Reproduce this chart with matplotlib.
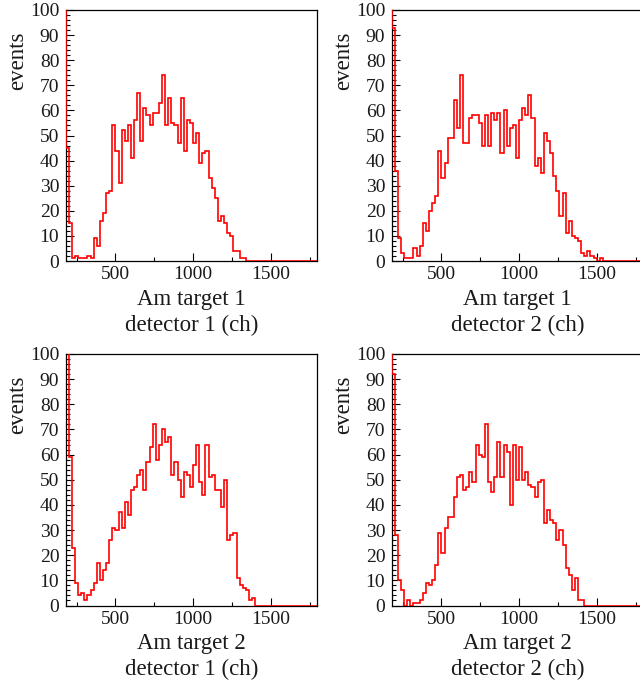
import numpy as np
import matplotlib
matplotlib.use("Agg")
import matplotlib.pyplot as plt
from matplotlib.ticker import MultipleLocator

plt.rcParams['font.family'] = ['Liberation Serif', 'DejaVu Serif']

# histogram binning (channels), 20 ch per bin; first bin is the off-scale pedestal
bin_edges = np.arange(160, 1801, 20)
n_bins = len(bin_edges) - 1

# counts per bin starting at bin [160,180]; remaining bins up to 1800 are empty
t1_d1 = [400, 45, 15, 1, 2, 1, 1, 1, 2, 1, 9, 6, 16, 19, 27, 28, 54, 44, 31, 52, 48,
         54, 41, 56, 67, 48, 61, 58, 54, 59, 59, 63, 74, 54, 65, 55, 54, 47, 65, 44,
         56, 55, 47, 51, 39, 43, 44, 33, 29, 25, 16, 18, 15, 11, 10, 4, 4, 1, 1]
t1_d2 = [400, 93, 36, 9, 3, 1, 1, 1, 5, 2, 6, 15, 12, 20, 23, 26, 44, 33, 39, 49, 49,
         64, 53, 74, 47, 47, 57, 58, 58, 55, 46, 58, 46, 59, 56, 59, 43, 60, 46, 53,
         54, 41, 56, 61, 58, 66, 57, 38, 41, 35, 51, 48, 43, 34, 28, 18, 27, 11, 16,
         10, 9, 8, 3, 2, 4, 2, 1, 0, 1]
t2_d1 = [400, 150, 59, 23, 9, 4, 5, 2, 4, 6, 9, 17, 10, 14, 17, 26, 31, 30, 37, 31,
         41, 36, 46, 47, 52, 54, 46, 57, 63, 72, 58, 64, 70, 65, 67, 52, 57, 50, 43,
         53, 52, 47, 56, 64, 49, 44, 64, 51, 52, 46, 46, 39, 50, 26, 28, 29, 11, 8,
         7, 6, 2, 3]
t2_d2 = [400, 92, 28, 10, 6, 0, 2, 0, 1, 1, 2, 5, 9, 8, 10, 16, 29, 21, 31, 35, 35,
         43, 51, 52, 46, 47, 53, 49, 64, 60, 59, 72, 49, 45, 51, 65, 51, 64, 61, 40,
         64, 50, 63, 50, 53, 48, 47, 43, 49, 50, 33, 38, 34, 33, 26, 30, 24, 15, 12,
         6, 11, 2, 2]

titles = [("Am target 1", "detector 1 (ch)"),
          ("Am target 1", "detector 2 (ch)"),
          ("Am target 2", "detector 1 (ch)"),
          ("Am target 2", "detector 2 (ch)")]
series = [t1_d1, t1_d2, t2_d1, t2_d2]

W, H = 640, 689
# axes frames in pixels (x0, y0, x1, y1), right column runs past the image edge
frames = [(65.7, 10, 317.3, 261), (391.7, 10, 643.3, 261),
          (65.7, 354, 317.3, 605.5), (391.7, 354, 643.3, 605.5)]

text_col = "#1a1a1a"
fig = plt.figure(figsize=(W / 100, H / 100), dpi=100)

for counts, (line1, line2), (x0, y0, x1, y1) in zip(series, titles, frames):
    ax = fig.add_axes([x0 / W, 1 - y1 / H, (x1 - x0) / W, (y1 - y0) / H])
    vals = np.array(counts + [0] * (n_bins - len(counts)), dtype=float)
    ax.stairs(vals, bin_edges, color="#ff0000", lw=1.2, zorder=3)
    ax.set_xlim(180, 1800)
    ax.set_ylim(0, 100)
    ax.xaxis.set_major_locator(MultipleLocator(500))
    ax.xaxis.set_minor_locator(MultipleLocator(250))
    ax.yaxis.set_major_locator(MultipleLocator(10))
    ax.yaxis.set_minor_locator(MultipleLocator(2))
    ax.tick_params(which="both", direction="in", top=False, right=False,
                   labelsize=14, labelcolor=text_col, width=0.8)
    ax.tick_params(which="major", length=6)
    ax.tick_params(which="minor", length=3)
    ax.tick_params(axis="x", pad=3.6)
    ax.tick_params(axis="y", pad=4.6)
    for s in ax.spines.values():
        s.set_linewidth(0.9)
    h = y1 - y0
    ax.text(0.5, -44 / h, line1, transform=ax.transAxes, ha="center",
            va="baseline", fontsize=16.5, color=text_col)
    ax.text(0.5, -70 / h, line2, transform=ax.transAxes, ha="center",
            va="baseline", fontsize=16.5, color=text_col)
    ax.text(-43 / (x1 - x0), 1 - 21.7 / h, "events", transform=ax.transAxes,
            rotation=90, rotation_mode="anchor", ha="right", va="baseline",
            fontsize=16.5, color=text_col)

fig.savefig("out.png", dpi=100)
